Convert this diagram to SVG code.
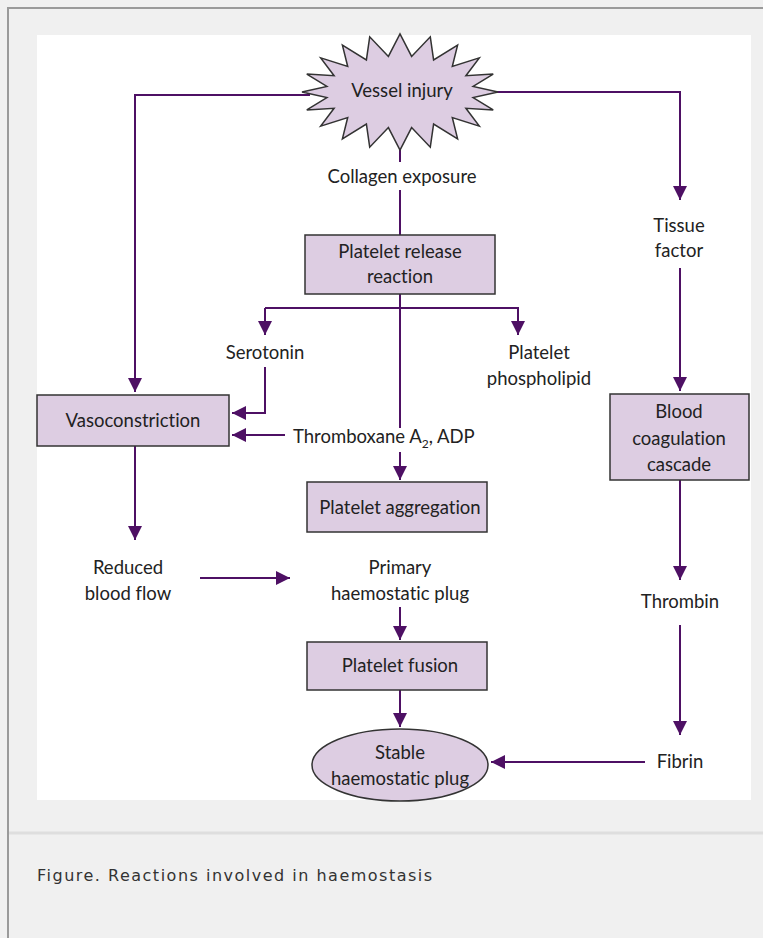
<svg xmlns="http://www.w3.org/2000/svg" width="763" height="938" viewBox="0 0 763 938">
<defs>
<marker id="ah" viewBox="0 0 10 10" refX="10" refY="5" markerWidth="7" markerHeight="7" markerUnits="strokeWidth" orient="auto"><path d="M0,0 L10,5 L0,10 z" fill="#4e1064"/></marker>
<style>
.bg{fill:#f0f0f0}
.c{stroke:#4e1064;stroke-width:2;fill:none}
.a{marker-end:url(#ah)}
.n{fill:#ddcde2;stroke:#333;stroke-width:1.5}
.t{font-family:Lato,"Liberation Sans",sans-serif;font-size:18.5px;fill:#222;text-anchor:middle;font-variant-ligatures:none}
.cap{font-family:"DejaVu Sans",Verdana,sans-serif;font-size:16px;fill:#333;letter-spacing:1.5px}
</style>
</defs>
<rect class="bg" x="0" y="0" width="763" height="938"/>
<path d="M8,938 V8 H763" fill="none" stroke="#9a9a9a" stroke-width="2"/>
<rect x="37" y="35" width="714" height="765" fill="#fff"/>
<line x1="9" y1="833" x2="763" y2="833" stroke="#dedede" stroke-width="3"/>
<text class="cap" x="37" y="881">Figure. Reactions involved in haemostasis</text>

<g id="connectors">
<path class="c a" d="M310,95 H135 V392"/>
<path class="c a" d="M490,92 H680 V200"/>
<line class="c" x1="400" y1="130" x2="400" y2="162"/>
<line class="c" x1="400" y1="190" x2="400" y2="235"/>
<line class="c" x1="400" y1="294" x2="400" y2="428"/>
<path class="c a" d="M265,308 H518 V335"/>
<path class="c a" d="M265,308 V335"/>
<path class="c a" d="M265,367 V413 H232"/>
<line class="c a" x1="285" y1="435" x2="232" y2="435"/>
<line class="c a" x1="400" y1="452" x2="400" y2="480"/>
<line class="c a" x1="135" y1="446" x2="135" y2="540"/>
<line class="c a" x1="200" y1="578" x2="290" y2="578"/>
<line class="c a" x1="400" y1="607" x2="400" y2="640"/>
<line class="c a" x1="400" y1="690" x2="400" y2="727"/>
<line class="c a" x1="680" y1="268" x2="680" y2="391"/>
<line class="c a" x1="680" y1="480" x2="680" y2="580"/>
<line class="c a" x1="680" y1="625" x2="680" y2="735"/>
<line class="c a" x1="645" y1="762" x2="491" y2="762"/>
</g>

<g id="vessel-injury">
<polygon class="n" points="498,92 473.1,97.6 493.2,109.9 465.9,108.3 479.3,126.1 452.3,117.5 457.6,138.9 433.6,124.1 430.3,147.2 411.6,127.6 400,150 388.4,127.6 369.7,147.2 366.4,124.1 342.4,138.9 347.7,117.5 320.7,126.1 334.1,108.3 306.8,109.9 326.9,97.6 302,92 326.9,86.4 306.8,74.1 334.1,75.7 320.7,57.9 347.7,66.5 342.4,45.1 366.4,59.9 369.7,36.8 388.4,56.4 400,34 411.6,56.4 430.3,36.8 433.6,59.9 457.6,45.1 452.3,66.5 479.3,57.9 465.9,75.7 493.2,74.1 473.1,86.4"/>
<text class="t" x="402" y="97">Vessel injury</text>
</g>
<g id="collagen"><text class="t" x="402" y="183">Collagen exposure</text></g>
<g id="platelet-release">
<rect class="n" x="305" y="235" width="190" height="59"/>
<text class="t" x="400" y="258">Platelet release</text>
<text class="t" x="400" y="283">reaction</text>
</g>
<g id="serotonin"><text class="t" x="265" y="359">Serotonin</text></g>
<g id="phospholipid">
<text class="t" x="539" y="359">Platelet</text>
<text class="t" x="539" y="385">phospholipid</text>
</g>
<g id="vasoconstriction">
<rect class="n" x="37" y="395" width="192" height="51"/>
<text class="t" x="133" y="427">Vasoconstriction</text>
</g>
<g id="thromboxane"><text class="t" x="293" y="443" style="text-anchor:start">Thromboxane A<tspan font-size="12" dy="5">2</tspan><tspan dy="-5">, ADP</tspan></text></g>
<g id="platelet-aggregation">
<rect class="n" x="307" y="482" width="180" height="50"/>
<text class="t" x="400" y="514">Platelet aggregation</text>
</g>
<g id="reduced-flow">
<text class="t" x="128" y="574">Reduced</text>
<text class="t" x="128" y="600">blood flow</text>
</g>
<g id="primary-plug">
<text class="t" x="400" y="574">Primary</text>
<text class="t" x="400" y="600">haemostatic plug</text>
</g>
<g id="platelet-fusion">
<rect class="n" x="307" y="642" width="180" height="48"/>
<text class="t" x="400" y="672">Platelet fusion</text>
</g>
<g id="stable-plug">
<ellipse class="n" cx="400" cy="765" rx="88" ry="36"/>
<text class="t" x="400" y="759">Stable</text>
<text class="t" x="400" y="785">haemostatic plug</text>
</g>
<g id="tissue-factor">
<text class="t" x="679" y="232">Tissue</text>
<text class="t" x="679" y="257">factor</text>
</g>
<g id="blood-coagulation">
<rect class="n" x="610" y="394" width="139" height="86"/>
<text class="t" x="679" y="418">Blood</text>
<text class="t" x="679" y="445">coagulation</text>
<text class="t" x="679" y="471">cascade</text>
</g>
<g id="thrombin"><text class="t" x="680" y="608">Thrombin</text></g>
<g id="fibrin"><text class="t" x="680" y="768">Fibrin</text></g>
</svg>
